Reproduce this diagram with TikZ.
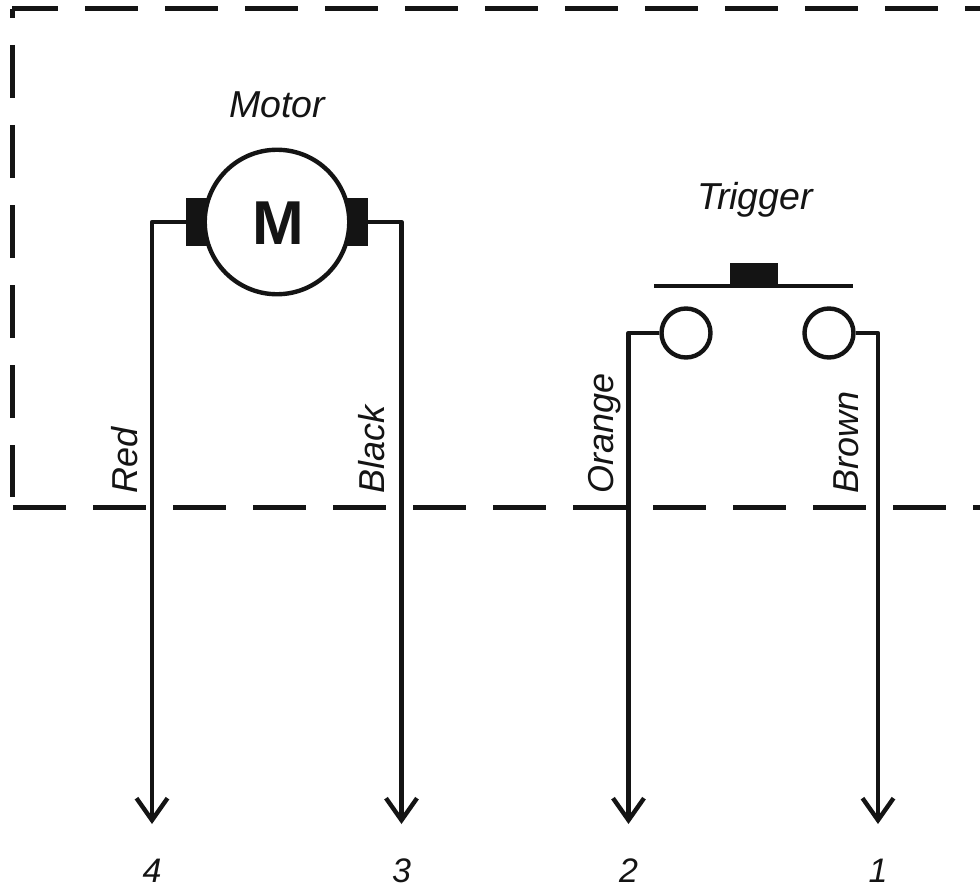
\documentclass[tikz,border=0pt]{standalone}
\usepackage{fontspec}
\setmainfont{Liberation Sans}
\usetikzlibrary{arrows.meta}
\definecolor{ink}{HTML}{141414}
\tikzset{
  boundary/.style={draw=ink,line width=5pt,dash pattern=on 53pt off 27pt},
  wire/.style={draw=ink,line width=4.4pt,line join=round},
  lead/.style={wire,-{Straight Barb[length=22pt,width=31pt,line width=4.4pt]}},
  lbl/.style={text=ink,inner sep=0pt,font=\fontsize{37.5}{37.5}\selectfont\itshape},
  wirelbl/.style={lbl,rotate=90,anchor=base west,font=\fontsize{36}{36}\selectfont\itshape},
  numlbl/.style={lbl,anchor=base,font=\fontsize{34}{34}\selectfont\itshape},
  solidblock/.style={fill=ink,draw=none,inner sep=0pt,minimum width=#1},
  contact/.style={circle,draw=ink,line width=4.4pt,fill=white,minimum size=49pt,inner sep=0pt}
}
\begin{document}
\begin{tikzpicture}[x=1pt,y=-1pt]
\useasboundingbox[fill=white] (0,0) rectangle (980,888);
% dashed enclosure
\coordinate (tl) at (12,9);
\coordinate (tr) at (980,9);
\coordinate (ll) at (12.5,497);
\coordinate (bl) at (13,507);
\coordinate (br) at (980,507);
\draw[boundary,dash phase=7pt] (tl) -- (tr);
\draw[boundary,dash phase=44pt] (12.5,9) -- (ll);
\draw[boundary] (bl) -- (br);
% motor
\node[solidblock=22pt,minimum height=48pt] (brushL) at (197,222) {};
\node[solidblock=22pt,minimum height=48pt] (brushR) at (357,222) {};
\node[circle,draw=ink,line width=4.4pt,fill=white,minimum size=144.5pt,inner sep=0pt] (motor) at (277,222) {};
\node[text=ink,inner sep=0pt,font=\fontsize{62}{62}\selectfont\bfseries] (mlabel) at (278.5,223.5) {M};
\node[lbl] (motorlbl) at (277,104.5) {Motor};
% trigger
\coordinate (barL) at (654,286);
\coordinate (barR) at (853,286);
\draw[wire] (barL) -- (barR);
\node[solidblock=48pt,minimum height=25pt] (button) at (754,275.5) {};
\node[contact] (c2) at (686,333) {};
\node[contact] (c1) at (829,333) {};
\node[lbl] (triglbl) at (755,200) {Trigger};
% terminals
\coordinate (t4) at (152,824);
\coordinate (t3) at (401.5,824);
\coordinate (t2) at (628.5,824);
\coordinate (t1) at (878,824);
\draw[lead] (brushL.west) -| (t4);
\draw[lead] (brushR.east) -| (t3);
\draw[lead] (c2.west) -| (t2);
\draw[lead] (c1.east) -| (t1);
% wire labels
\node[wirelbl] (red) at (137.5,494) {Red};
\node[wirelbl] (black) at (384.5,494) {Black};
\node[wirelbl] (orange) at (613.5,494) {Orange};
\node[wirelbl] (brown) at (858.5,494) {Brown};
% terminal numbers
\node[numlbl] (n4) at (152,882) {4};
\node[numlbl] (n3) at (401.5,882) {3};
\node[numlbl] (n2) at (628.5,882) {2};
\node[numlbl] (n1) at (878,882) {1};
\end{tikzpicture}
\end{document}
